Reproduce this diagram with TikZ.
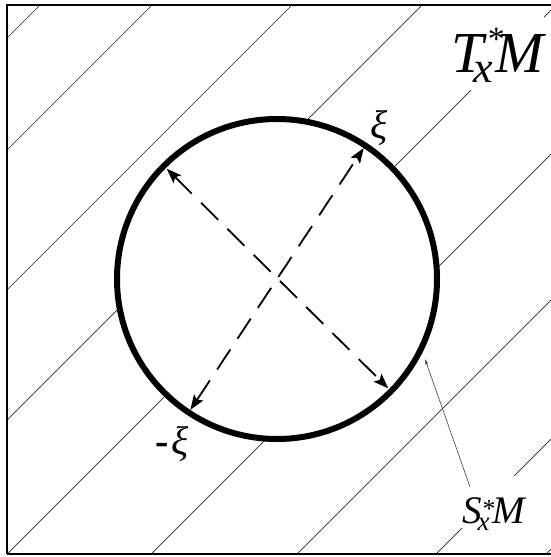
\documentclass[tikz,border=0pt]{standalone}
\usepackage{fontspec}
\setmainfont{Liberation Serif}
\usetikzlibrary{arrows.meta,calc}
\begin{document}
\begin{tikzpicture}[x=1pt,y=-1pt,
  hatch/.style={line width=0.7pt, black!85},
  frameline/.style={line width=2pt},
  rim/.style={circle, draw, line width=6pt, fill=white, minimum size=320pt, inner sep=0pt},
  dasharrow/.style={line width=1.8pt, dash pattern=on 24pt off 13pt,
     {Stealth[length=15pt,width=11pt,inset=3pt]}-{Stealth[length=15pt,width=11pt,inset=3pt]}},
  pointer/.style={line width=0.6pt, black!75, -{Stealth[length=6pt,width=3pt]}},
  lbl/.style={inner sep=0pt, fill=white}]
\useasboundingbox (0,0) rectangle (551,557);
% hatching
\begin{scope}
  \clip (7,5) rectangle (551,554);
  \foreach \c in {45,157,297,427,561,705,851,990,1100}
    \draw[hatch] (\c-700,700) -- (\c+100,-100);
\end{scope}
% frame (right side lies outside the picture)
\draw[frameline] (551,5) -- (7,5) -- (7,554);
\draw[line width=1.5pt] (7,554) -- (551,554);
% sphere
\node[rim] (S) at (277,279) {};
\coordinate (xi)  at ($(S.center)+(-56.5:157)$);
\coordinate (mxi) at ($(S.center)+(123.5:157)$);
\coordinate (ul)  at ($(S.center)+(-135:156)$);
\coordinate (lr)  at ($(S.center)+(44.5:156)$);
\draw[dasharrow] (mxi) -- (xi);
\draw[dasharrow] (ul) -- (lr);
% labels
\node[lbl, anchor=base west, text height=59pt, text depth=18pt] (TM) at (451,72)
  {\fontsize{58}{58}\selectfont\itshape T\kern-10pt\raisebox{-10pt}{\fontsize{44}{44}\selectfont x}\kern-5pt\raisebox{22pt}{\fontsize{34}{34}\selectfont\upshape *}\kern-9pt M};
\node[lbl, anchor=base west, text height=47pt, text depth=10pt] (SM) at (462,523)
  {\fontsize{39}{39}\selectfont\itshape S\kern-4pt\raisebox{-7pt}{\fontsize{27}{27}\selectfont x}\kern-7pt\raisebox{6pt}{\fontsize{26}{26}\selectfont\upshape *}\kern-3pt M};
\node[inner sep=0pt] (xil) at (379,128) {\fontsize{40}{40}\selectfont\itshape ξ};
\node[inner sep=0pt] (mxil) at (172,444) {\fontsize{40}{40}\selectfont{\bfseries -}\kern2pt\textit{ξ}};
% pointer to the sphere
\coordinate (ptail) at (470,487);
\coordinate (phead) at (425,359);
\draw[pointer] (ptail) -- (phead);
\end{tikzpicture}
\end{document}
